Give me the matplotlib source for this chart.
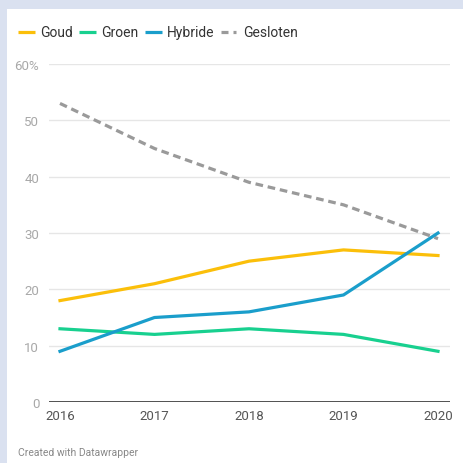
import matplotlib
matplotlib.use("Agg")
import matplotlib.pyplot as plt
from matplotlib.lines import Line2D
from matplotlib.patches import Rectangle

plt.rcParams["font.family"] = ["Roboto", "DejaVu Sans"]

years = [2016, 2017, 2018, 2019, 2020]
goud = [18, 21, 25, 27, 26]
groen = [13, 12, 13, 12, 9]
hybride = [9, 15, 16, 19, 30]
gesloten = [53, 45, 39, 35, 29]
y_ticks = [0, 10, 20, 30, 40, 50, 60]
y_labels = ["0", "10", "20", "30", "40", "50", "60%"]

COLORS = {"Goud": "#fbbf0a", "Groen": "#18d08f", "Hybride": "#1a9ecb", "Gesloten": "#9a9a9a"}
LW = 2.3

W, H = 463, 464
fig = plt.figure(figsize=(W / 100, H / 100), dpi=100)
fig.patch.set_facecolor("#dae1f0")
fig.patches.append(Rectangle((7 / W, 0), 1, 1 - 10 / H, transform=fig.transFigure,
                             facecolor="white", edgecolor="none", zorder=-10))

ax = fig.add_axes([49 / W, (H - 403) / H, (450 - 49) / W, (403 - 65) / H])
ax.set_facecolor("none")
ax.set_xlim(2016 - 11 / 94.5, 2020 + 12 / 94.5)
ax.set_ylim(0, 60)

for y in y_ticks[1:]:
    ax.axhline(y, color="#e6e6e6", lw=1, zorder=1)
ax.axhline(0, color="#333333", lw=1.2, zorder=3)

ax.plot(years, gesloten, color=COLORS["Gesloten"], lw=LW, ls=(0, (2.4, 1.5)), zorder=4)
ax.plot(years, groen, color=COLORS["Groen"], lw=LW, zorder=4)
ax.plot(years, goud, color=COLORS["Goud"], lw=LW, zorder=4)
ax.plot(years, hybride, color=COLORS["Hybride"], lw=LW, zorder=5)

for s in ax.spines.values():
    s.set_visible(False)
ax.set_yticks(y_ticks)
ax.set_yticklabels(y_labels)
ax.set_xticks(years)
ax.set_xticklabels([str(y) for y in years])
ax.tick_params(axis="y", length=0, pad=7, labelsize=9.5, labelcolor="#a8a8a8")
ax.tick_params(axis="x", length=0, pad=5, labelsize=9.5, labelcolor="#555555")

# legend drawn by hand
def fx(px):
    return px / W

def fy(py):
    return 1 - py / H

ly = 33
items = [("Goud", 18), ("Groen", 79), ("Hybride", 145)]
for name, x0 in items:
    fig.lines.append(Line2D([fx(x0), fx(x0 + 17)], [fy(ly), fy(ly)], transform=fig.transFigure,
                            color=COLORS[name], lw=LW, solid_capstyle="butt"))
    fig.text(fx(x0 + 22), fy(ly), name, fontsize=10, color="#333333", va="center")
for a, b in [(221, 228), (233, 236)]:
    fig.lines.append(Line2D([fx(a), fx(b)], [fy(ly), fy(ly)], transform=fig.transFigure,
                            color=COLORS["Gesloten"], lw=LW, solid_capstyle="butt"))
fig.text(fx(243), fy(ly), "Gesloten", fontsize=10, color="#333333", va="center")

fig.text(fx(18), fy(453), "Created with Datawrapper", fontsize=7.5, color="#888888", va="center")

fig.savefig("out.png", dpi=100)
